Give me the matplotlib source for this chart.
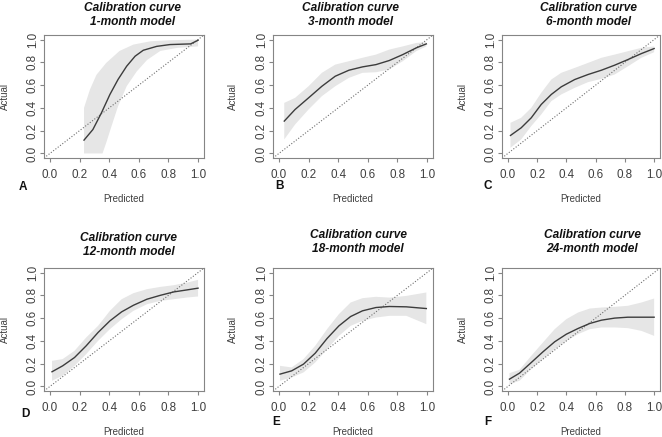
import matplotlib
matplotlib.use("Agg")
import matplotlib.pyplot as plt

plt.rcParams['font.family'] = ['Liberation Sans', 'DejaVu Sans']

titles = ["1-month model", "3-month model", "6-month model",
          "12-month model", "18-month model", "24-month model"]
letters = ["A", "B", "C", "D", "E", "F"]
ticks = [0.0, 0.2, 0.4, 0.6, 0.8, 1.0]
tick_labels = ["0.0", "0.2", "0.4", "0.6", "0.8", "1.0"]

# Panel A (1-month)
a_x = [0.23, 0.29, 0.348, 0.405, 0.46, 0.518, 0.575, 0.63, 0.72, 0.81, 0.95, 1.0]
a_y = [0.117, 0.21, 0.357, 0.518, 0.65, 0.766, 0.854, 0.906, 0.94, 0.956, 0.962, 0.994]
a_ux = [0.23, 0.27, 0.314, 0.38, 0.47, 0.564, 0.68, 0.81, 1.0]
a_hi = [0.40, 0.56, 0.69, 0.795, 0.90, 0.956, 0.985, 0.994, 1.0]
a_lx = [0.23, 0.355, 0.38, 0.416, 0.46, 0.518, 0.586, 0.655, 0.745, 0.86, 1.0]
a_lo = [0.0, 0.0, 0.094, 0.24, 0.415, 0.59, 0.72, 0.82, 0.90, 0.927, 0.94]

# Panel B (3-month)
b_x = [0.036, 0.109, 0.2, 0.29, 0.38, 0.473, 0.564, 0.655, 0.745, 0.836, 0.927, 0.995]
b_y = [0.284, 0.386, 0.488, 0.59, 0.678, 0.731, 0.76, 0.78, 0.816, 0.868, 0.927, 0.962]
b_hi = [0.444, 0.488, 0.59, 0.708, 0.78, 0.81, 0.84, 0.868, 0.912, 0.94, 0.97, 0.977]
b_lo = [0.123, 0.254, 0.386, 0.503, 0.59, 0.664, 0.708, 0.713, 0.737, 0.81, 0.898, 0.94]

# Panel C (6-month)
c_x = [0.018, 0.091, 0.16, 0.228, 0.297, 0.365, 0.457, 0.548, 0.64, 0.73, 0.822, 0.913, 1.0]
c_y = [0.158, 0.225, 0.313, 0.43, 0.518, 0.585, 0.649, 0.693, 0.731, 0.775, 0.825, 0.877, 0.921]
c_hi = [0.269, 0.313, 0.40, 0.532, 0.649, 0.708, 0.751, 0.795, 0.84, 0.868, 0.898, 0.927, 0.94]
c_lo = [0.05, 0.123, 0.24, 0.342, 0.459, 0.518, 0.576, 0.626, 0.655, 0.693, 0.766, 0.84, 0.889]

# Panel D (12-month)
d_x = [0.014, 0.086, 0.166, 0.245, 0.325, 0.405, 0.484, 0.564, 0.655, 0.745, 0.836, 0.927, 1.0]
d_y = [0.129, 0.181, 0.254, 0.357, 0.474, 0.576, 0.655, 0.713, 0.766, 0.80, 0.83, 0.848, 0.863]
d_hi = [0.225, 0.24, 0.313, 0.43, 0.532, 0.664, 0.766, 0.819, 0.854, 0.874, 0.889, 0.912, 0.936]
d_lo = [0.05, 0.094, 0.181, 0.284, 0.40, 0.503, 0.59, 0.664, 0.722, 0.751, 0.766, 0.781, 0.79]

# Panel E (18-month)
e_x = [0.007, 0.086, 0.166, 0.245, 0.325, 0.405, 0.484, 0.564, 0.655, 0.745, 0.86, 0.995]
e_y = [0.108, 0.137, 0.196, 0.292, 0.421, 0.532, 0.614, 0.664, 0.693, 0.702, 0.699, 0.684]
e_hi = [0.181, 0.167, 0.24, 0.357, 0.503, 0.635, 0.737, 0.775, 0.787, 0.78, 0.795, 0.825]
e_lo = [0.05, 0.079, 0.123, 0.21, 0.327, 0.444, 0.532, 0.576, 0.605, 0.62, 0.62, 0.547]

# Panel F (24-month)
f_x = [0.011, 0.08, 0.16, 0.24, 0.32, 0.40, 0.48, 0.56, 0.64, 0.73, 0.82, 0.913, 1.0]
f_y = [0.064, 0.117, 0.21, 0.304, 0.392, 0.459, 0.509, 0.553, 0.582, 0.60, 0.608, 0.608, 0.608]
f_hi = [0.117, 0.146, 0.269, 0.386, 0.503, 0.591, 0.649, 0.684, 0.693, 0.699, 0.708, 0.737, 0.772]
f_lo = [0.02, 0.05, 0.152, 0.24, 0.327, 0.40, 0.459, 0.503, 0.518, 0.518, 0.512, 0.488, 0.444]

panels = [
    (a_x, a_y, a_ux, a_hi, a_lx, a_lo),
    (b_x, b_y, b_x, b_hi, b_x, b_lo),
    (c_x, c_y, c_x, c_hi, c_x, c_lo),
    (d_x, d_y, d_x, d_hi, d_x, d_lo),
    (e_x, e_y, e_x, e_hi, e_x, e_lo),
    (f_x, f_y, f_x, f_hi, f_x, f_lo),
]

W, H = 662, 437
fig = plt.figure(figsize=(W / 100, H / 100), dpi=100)

# box pixel positions (left, right, top, bottom)
boxes = [(44, 204, 35, 158), (273, 433, 35, 158), (502, 660, 35, 158),
         (44, 204, 268, 391), (273, 433, 268, 391), (502, 660, 268, 391)]
title_cx = [133, 351, 588, 129, 358, 592]
title_y1 = [8, 8, 8, 238, 235, 235]
letter_pos = [(23, 187), (279, 186), (488, 186), (25, 414), (276, 422), (488, 422)]
actual_x = [5, 233, 463, 5, 233, 463]
pred_y = [199, 199, 199, 432, 432, 432]

grey = '#858585'
txt = '#404040'

for i, (px, py, ux, hi, lx, lo) in enumerate(panels):
    l, r, t, b = boxes[i]
    ax = fig.add_axes([l / W, 1 - b / H, (r - l) / W, (b - t) / H])
    poly_x = list(ux) + list(lx)[::-1]
    poly_y = list(hi) + list(lo)[::-1]
    ax.fill(poly_x, poly_y, color='#e6e6e6', lw=0)
    ax.plot([-0.04, 1.04], [-0.04, 1.04], ls=(0, (1, 1.6)), color='#6e6e6e', lw=0.8)
    ax.plot(px, py, color='#3c3c3c', lw=1.0)
    ax.set_xlim(-0.04, 1.04)
    ax.set_ylim(-0.04, 1.04)
    ax.set_xticks(ticks)
    ax.set_xticklabels(tick_labels)
    ax.set_yticks(ticks)
    ax.set_yticklabels(tick_labels)
    for s in ax.spines.values():
        s.set_color(grey)
        s.set_linewidth(0.8)
    ax.tick_params(axis='both', colors=grey, labelcolor=txt, labelsize=8.4,
                   length=3, width=0.8, direction='out')
    ax.tick_params(axis='x', pad=5)
    ax.tick_params(axis='y', pad=5)
    for lab in ax.get_yticklabels():
        lab.set_rotation(90)
        lab.set_va('center')
        lab.set_ha('center')
    fig.text(title_cx[i] / W, 1 - title_y1[i] / H, "Calibration curve",
             ha='center', va='center', fontsize=8.6, fontweight='bold',
             style='italic', color='#111111')
    fig.text(title_cx[i] / W, 1 - (title_y1[i] + 14) / H, titles[i],
             ha='center', va='center', fontsize=8.6, fontweight='bold',
             style='italic', color='#111111')
    lx_, ly_ = letter_pos[i]
    fig.text(lx_ / W, 1 - ly_ / H, letters[i], ha='center', va='center',
             fontsize=8.5, fontweight='bold', color='#111111')
    fig.text(actual_x[i] / W, 1 - ((t + b) / 2) / H, "Actual", rotation=90,
             ha='center', va='center', fontsize=7, color=txt)
    fig.text(((l + r) / 2) / W, 1 - pred_y[i] / H, "Predicted",
             ha='center', va='center', fontsize=7, color=txt)

fig.savefig("out.png", dpi=100, facecolor='white')
